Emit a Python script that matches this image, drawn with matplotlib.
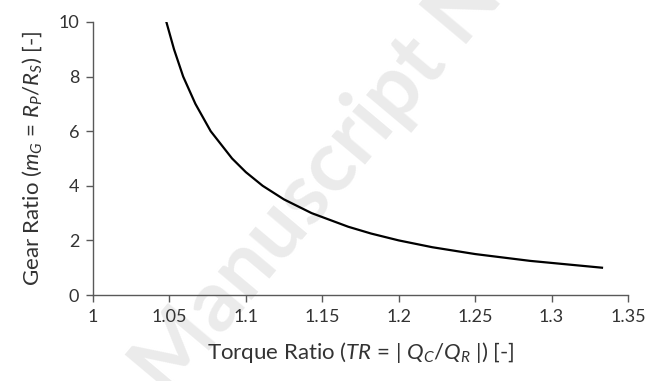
import matplotlib
matplotlib.use("Agg")
import matplotlib.pyplot as plt

# torque ratio TR and gear ratio mG
torque_ratio = [1.048, 1.053, 1.059, 1.067, 1.077, 1.091, 1.100, 1.111, 1.125,
                1.143, 1.167, 1.182, 1.200, 1.222, 1.250, 1.286, 1.333]
gear_ratio = [10.0, 9.0, 8.0, 7.0, 6.0, 5.0, 4.5, 4.0, 3.5,
              3.0, 2.5, 2.25, 2.0, 1.75, 1.5, 1.25, 1.0]

x_ticks = [1, 1.05, 1.1, 1.15, 1.2, 1.25, 1.3, 1.35]
x_tick_labels = ["1", "1.05", "1.1", "1.15", "1.2", "1.25", "1.3", "1.35"]
y_ticks = [0, 2, 4, 6, 8, 10]

plt.rcParams['font.family'] = ['Lato', 'DejaVu Sans']
plt.rcParams['mathtext.fontset'] = 'custom'
plt.rcParams['mathtext.rm'] = 'Lato'
plt.rcParams['mathtext.it'] = 'Lato:italic'

axis_grey = '#595959'
text_grey = '#333333'

fig = plt.figure(figsize=(6.49, 3.81), dpi=100)
ax = fig.add_axes([0.1433, 0.2257, 0.8243, 0.7166])
ax.set_zorder(1)
ax.patch.set_alpha(0)

# faint watermark behind the chart
fig.text(0.49, 0.52, "Manuscript N", fontsize=62, fontweight='bold',
         color='#ebebeb', rotation=50, ha='center', va='center', zorder=0)

ax.plot(torque_ratio, gear_ratio, color='black', lw=1.6)

ax.set_xlim(1, 1.35)
ax.set_ylim(0, 10)
ax.set_xticks(x_ticks)
ax.set_xticklabels(x_tick_labels)
ax.set_yticks(y_ticks)

for side in ['top', 'right']:
    ax.spines[side].set_visible(False)
for side in ['left', 'bottom']:
    ax.spines[side].set_color(axis_grey)
    ax.spines[side].set_linewidth(1.0)

ax.tick_params(axis='both', direction='out', length=5, width=1.0,
               color=axis_grey, labelsize=13, labelcolor=text_grey, pad=5)

ax.set_xlabel(r"Torque Ratio ($TR$ = $|\ Q_C/Q_R\ |$) [-]", fontsize=16,
              color=text_grey, labelpad=11)
ax.set_ylabel(r"Gear Ratio ($m_G$ = $R_P/R_S$) [-]", fontsize=16,
              color=text_grey, labelpad=10)

fig.savefig("out.png", dpi=100)
